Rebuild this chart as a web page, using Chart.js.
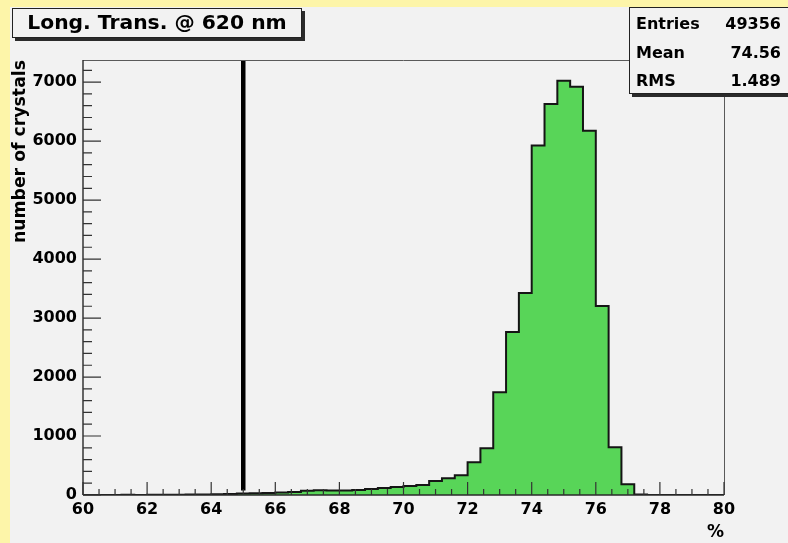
<!DOCTYPE html>
<html><head><meta charset="utf-8">
<script src="https://cdn.jsdelivr.net/npm/chart.js@4.4.0/dist/chart.umd.min.js"></script>
<style>html,body{margin:0;padding:0;background:#fdf5a9;overflow:hidden}canvas{display:block}</style>
</head><body><canvas id="c" width="788" height="543"></canvas>
<script>
// ---- data ----
const titleText = "Long. Trans. @ 620 nm";
const xAxisTitle = "%";
const yAxisTitle = "number of crystals";
const binLowEdges = [60.0,60.4,60.8,61.2,61.6,62.0,62.4,62.8,63.2,63.6,
                     64.0,64.4,64.8,65.2,65.6,66.0,66.4,66.8,67.2,67.6,
                     68.0,68.4,68.8,69.2,69.6,70.0,70.4,70.8,71.2,71.6,
                     72.0,72.4,72.8,73.2,73.6,74.0,74.4,74.8,75.2,75.6,
                     76.0,76.4,76.8,77.2,77.6,78.0,78.4,78.8,79.2,79.6];
const xUpperEdge = 80.0;
const counts = [0,2,1,3,2,4,6,5,8,10,
                12,18,25,28,35,42,50,70,82,78,
                76,85,100,118,135,152,170,237,282,333,
                554,791,1740,2763,3424,5927,6627,7023,6921,6175,
                3203,808,181,10,2,1,0,0,0,0];
const cutX = [65, 65];
const cutY = [75, 7375];
const xRange = [60, 80];
const yRange = [0, 7375];
const xTickLabels = [60,62,64,66,68,70,72,74,76,78,80];
const yTickLabels = [0,1000,2000,3000,4000,5000,6000,7000];
const statNames = ["Entries","Mean","RMS"];
const statValues = ["49356","74.56","1.489"];

// ---- build ----
const histPoints = [{x: binLowEdges[0], y: 0}];
binLowEdges.forEach((e, i) => histPoints.push({x: e, y: counts[i]}));
histPoints.push({x: xUpperEdge, y: counts[counts.length - 1]});
histPoints.push({x: xUpperEdge, y: 0});
const cutPoints = cutX.map((x, i) => ({x, y: cutY[i]}));

const FONT = "'DejaVu Sans'";
Chart.defaults.font.family = FONT;

const rootPlugin = {
  id: 'rootStyle',
  beforeDraw(chart) {
    const ctx = chart.ctx;
    ctx.save();
    ctx.fillStyle = '#fdf5a9';
    ctx.fillRect(0, 0, chart.width, chart.height);
    ctx.fillStyle = '#f2f2f2';
    ctx.fillRect(10, 7, chart.width - 10, chart.height - 7);
    ctx.restore();
  },
  afterDatasetsDraw(chart) {
    const ctx = chart.ctx;
    const xs = chart.scales.x, ys = chart.scales.y;
    const L = xs.left, R = xs.right, T = ys.top, B = ys.bottom;
    ctx.save();
    // frame
    ctx.strokeStyle = '#5a5a5a';
    ctx.lineWidth = 1;
    ctx.beginPath();
    ctx.moveTo(L, Math.round(T) + 0.5); ctx.lineTo(R, Math.round(T) + 0.5);
    ctx.moveTo(Math.round(R) + 0.5, T); ctx.lineTo(Math.round(R) + 0.5, B);
    ctx.stroke();
    // axes
    ctx.strokeStyle = '#2a2a2a';
    ctx.lineWidth = 1.4;
    ctx.beginPath();
    ctx.moveTo(L, T); ctx.lineTo(L, B);
    ctx.moveTo(L, B); ctx.lineTo(R, B);
    ctx.stroke();
    ctx.lineWidth = 1.2;
    ctx.strokeStyle = '#333';
    ctx.beginPath();
    // x ticks: major every 2, minor every 0.5
    for (let v = xRange[0]; v <= xRange[1] + 1e-9; v += 0.5) {
      const px = xs.getPixelForValue(v);
      const major = Math.abs(v / 2 - Math.round(v / 2)) < 1e-6;
      ctx.moveTo(px, B); ctx.lineTo(px, B - (major ? 13 : 6));
    }
    // y ticks: major every 1000, minor every 200
    for (let v = 0; v <= yRange[1]; v += 200) {
      const py = ys.getPixelForValue(v);
      const major = v % 1000 === 0;
      ctx.moveTo(L, py); ctx.lineTo(L + (major ? 18 : 9), py);
    }
    ctx.stroke();
    ctx.restore();
  },
  afterDraw(chart) {
    const ctx = chart.ctx;
    ctx.save();
    // title box
    ctx.fillStyle = '#2b2b2b';
    ctx.fillRect(15, 11, 290, 30);
    ctx.fillStyle = '#f2f2f2';
    ctx.fillRect(12, 8, 290, 30);
    ctx.strokeStyle = '#222';
    ctx.lineWidth = 1;
    ctx.strokeRect(12.5, 8.5, 289, 29);
    ctx.fillStyle = '#000';
    ctx.font = "bold 20.3px " + FONT;
    ctx.textAlign = 'center';
    ctx.textBaseline = 'middle';
    ctx.fillText(titleText, 157, 24);
    // stats box
    ctx.fillStyle = '#2b2b2b';
    ctx.fillRect(632, 10, 170, 87);
    ctx.fillStyle = '#f2f2f2';
    ctx.fillRect(629, 7, 170, 87);
    ctx.strokeStyle = '#222';
    ctx.strokeRect(629.5, 7.5, 170, 86);
    ctx.fillStyle = '#000';
    ctx.font = "bold 16px " + FONT;
    const rowsY = [25, 54, 82];
    statNames.forEach((n, i) => {
      ctx.textAlign = 'left';
      ctx.fillText(n, 636, rowsY[i]);
      ctx.textAlign = 'right';
      ctx.fillText(statValues[i], 781, rowsY[i]);
    });
    ctx.restore();
  }
};

new Chart(document.getElementById('c'), {
  type: 'line',
  data: {
    datasets: [
      {
        data: histPoints,
        stepped: true,
        borderColor: '#151515',
        borderWidth: 2,
        backgroundColor: '#58d558',
        fill: 'origin',
        pointRadius: 0,
        tension: 0
      },
      {
        data: cutPoints,
        borderColor: '#000',
        borderWidth: 4.5,
        fill: false,
        pointRadius: 0
      }
    ]
  },
  options: {
    responsive: false,
    animation: false,
    events: [],
    layout: { padding: { left: 0, top: 60, right: 64, bottom: 0 } },
    plugins: { legend: { display: false }, tooltip: { enabled: false }, title: { display: false } },
    scales: {
      x: {
        type: 'linear',
        min: xRange[0], max: xRange[1],
        afterBuildTicks(s) { s.ticks = xTickLabels.map(v => ({value: v})); },
        afterFit(s) { s.height = 48; },
        grid: { display: false, drawTicks: false, tickLength: 0 },
        border: { display: false },
        ticks: { color: '#000', font: { size: 16, weight: 'bold' }, padding: 5, maxRotation: 0, autoSkip: false,
                 callback: v => String(v) },
        title: { display: true, text: xAxisTitle, align: 'end', color: '#000', font: { size: 17, weight: 'bold' }, padding: { top: 0, bottom: 0 } }
      },
      y: {
        type: 'linear',
        min: yRange[0], max: yRange[1],
        afterBuildTicks(s) { s.ticks = yTickLabels.map(v => ({value: v})); },
        afterFit(s) { s.width = 83; },
        grid: { display: false, drawTicks: false, tickLength: 0 },
        border: { display: false },
        ticks: { color: '#000', font: { size: 16, weight: 'bold' }, padding: 6, autoSkip: false,
                 callback: v => String(v) },
        title: { display: true, text: yAxisTitle, align: 'end', color: '#000', font: { size: 17.3, weight: 'bold' }, padding: { top: 10, bottom: 0 } }
      }
    }
  },
  plugins: [rootPlugin]
});
</script>
</body></html>
